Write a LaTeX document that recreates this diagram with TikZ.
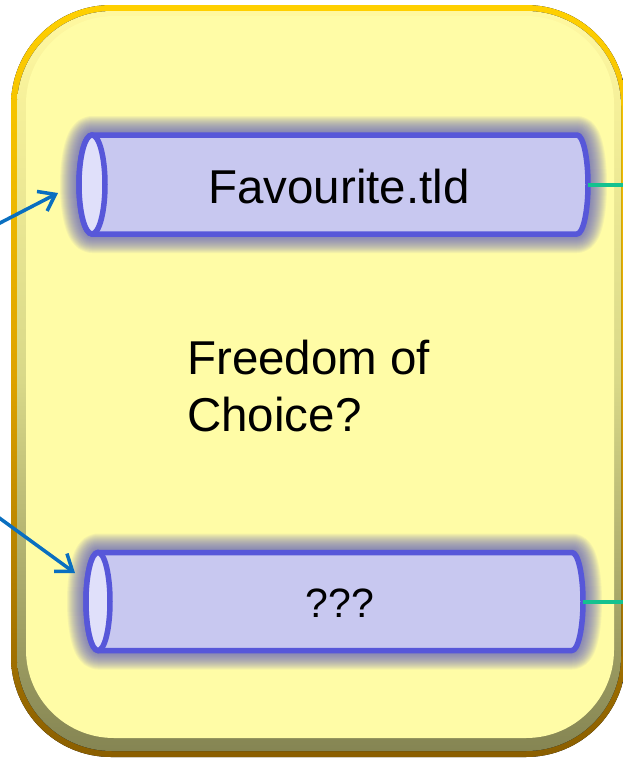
\documentclass[tikz,border=0pt]{standalone}
\usepackage{fontspec}
\setmainfont{Liberation Sans}
\usetikzlibrary{arrows.meta}
\definecolor{gold1}{HTML}{FFD000}
\definecolor{gold2}{HTML}{DDA200}
\definecolor{gold3}{HTML}{8A5E00}
\definecolor{bev1}{HTML}{FFF8A0}
\definecolor{bev2}{HTML}{D8D888}
\definecolor{bev3}{HTML}{858553}
\definecolor{padyel}{HTML}{FFFCA6}
\definecolor{cylfill}{HTML}{C8C8F0}
\definecolor{cylend}{HTML}{E0E0FA}
\definecolor{cylline}{HTML}{5757D9}
\definecolor{glowc}{HTML}{5C5CC0}
\definecolor{tealc}{HTML}{14C28F}
\definecolor{arrowblue}{HTML}{0A6FC0}
\tikzset{
  cylbody/.style={fill=cylfill, draw=cylline, line width=5.5pt, line join=round},
  glowring/.style={draw=glowc, line width=#1, draw opacity=0.065, line join=round},
  cylface/.style={fill=cylend, draw=cylline, line width=5.5pt},
  link/.style={draw=tealc, line width=4pt},
  feed/.style={draw=arrowblue, line width=3.5pt, -{Straight Barb[length=15pt,width=22pt]}},
  bigtext/.style={font=\fontsize{47.5}{57}\selectfont, inner sep=0pt},
  smalltext/.style={font=\fontsize{41}{49}\selectfont, inner sep=0pt}
}
\newcommand\cylpathA{(92,135) -- (577,135)
  arc[start angle=-90, end angle=90, x radius=11, y radius=49.5]
  -- (92,234) arc[start angle=90, end angle=270, x radius=13, y radius=49.5] -- cycle}
\newcommand\cylpathB{(98,552.5) -- (572,552.5)
  arc[start angle=-90, end angle=90, x radius=11, y radius=49]
  -- (98,650.5) arc[start angle=90, end angle=270, x radius=12, y radius=49] -- cycle}
\begin{document}
\begin{tikzpicture}[x=1pt,y=-1pt]
\useasboundingbox (0,0) rectangle (623,758);
% frame
\fill[top color=gold1, bottom color=gold3, middle color=gold2, rounded corners=100pt]
  (11,5) rectangle (626,757);
\fill[top color=bev1, bottom color=bev3, middle color=bev2, rounded corners=95pt]
  (17,11) rectangle (621,751);
\fill[padyel, rounded corners=88pt] (26,16) rectangle (614,738);

% glows
\foreach \w in {2,4,...,38} {
  \draw[glowring=\w pt] \cylpathA;
  \draw[glowring=\w pt] \cylpathB;
}

% top cylinder
\coordinate (c1e) at (588,184.5);
\path[cylbody] \cylpathA;
\path[cylface] (92,184.5) ellipse [x radius=13, y radius=49.5];
\node[bigtext] (t1) at (339,187) {Favourite.tld};

% bottom cylinder
\coordinate (c2e) at (583,602);
\path[cylbody] \cylpathB;
\path[cylface] (98,601.5) ellipse [x radius=12, y radius=49];
\node[smalltext] (t2) at (340,603) {???};

% middle text
\node[bigtext, align=left, anchor=west] (q) at (187,386) {Freedom of\\Choice?};

% connectors
\coordinate (r1) at (623,184.5);
\coordinate (r2) at (623,602);
\draw[link] (c1e) -- (r1);
\draw[link] (c2e) -- (r2);
\coordinate (a1) at (-2,224);
\coordinate (h1) at (58,193);
\coordinate (a2) at (-2,517);
\coordinate (h2) at (75,573);
\draw[feed] (a1) -- (h1);
\draw[feed] (a2) -- (h2);
\end{tikzpicture}
\end{document}
